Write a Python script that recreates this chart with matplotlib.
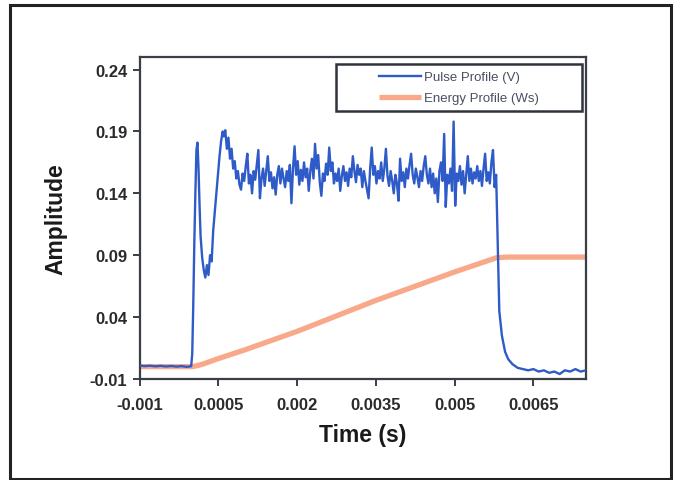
import numpy as np
import matplotlib
matplotlib.use("Agg")
import matplotlib.pyplot as plt
from matplotlib.patches import Rectangle

plt.rcParams['font.family'] = ['Liberation Sans', 'DejaVu Sans']

# ---------------- data ----------------
# Pulse profile: baseline + rising edge (explicit time/value pairs)
pulse_head_t = [-0.001, -0.0009, -0.0008, -0.0007, -0.0006, -0.0005, -0.0004, -0.0003,
                -0.0002, -0.0001, -0.00002, 0.0, 0.00002, 0.00004, 0.00006, 0.00008,
                0.0001, 0.00012, 0.00014, 0.00016, 0.00019, 0.00022, 0.00025, 0.00028,
                0.00031, 0.00034, 0.00037, 0.0004, 0.00043, 0.00046, 0.00049, 0.00052,
                0.00055, 0.00058, 0.0006]
pulse_head_v = [0.0008, 0.0004, 0.0007, 0.0002, 0.0006, 0.0001, 0.0005, 0.0,
                0.0004, -0.0002, 0.0003, 0.01, 0.05, 0.10, 0.14, 0.175,
                0.181, 0.16, 0.13, 0.105, 0.088, 0.078, 0.072, 0.082,
                0.074, 0.09, 0.085, 0.11, 0.125, 0.14, 0.155, 0.17,
                0.182, 0.19, 0.186]

# Pulse plateau, sampled every 30 us starting at 0.63 ms
plateau_start = 0.00063
plateau_dt = 0.00003
plateau_v = [
    0.191, 0.176, 0.185, 0.168, 0.176, 0.160, 0.166, 0.152, 0.158, 0.147,
    0.143, 0.156, 0.150, 0.162, 0.172, 0.148, 0.155, 0.140, 0.158, 0.151,
    0.163, 0.175, 0.136, 0.152, 0.160, 0.146, 0.158, 0.170, 0.150, 0.157,
    0.144, 0.153, 0.139, 0.155, 0.162, 0.148, 0.160, 0.152, 0.145, 0.158,
    0.150, 0.163, 0.132, 0.160, 0.178, 0.155, 0.166, 0.147, 0.159, 0.150,
    0.165, 0.153, 0.160, 0.142, 0.158, 0.168, 0.152, 0.180, 0.160, 0.171,
    0.149, 0.138, 0.156, 0.150, 0.164, 0.155, 0.177, 0.158, 0.165, 0.148,
    0.156, 0.150, 0.160, 0.142, 0.154, 0.162, 0.150, 0.157, 0.146, 0.160,
    0.153, 0.170, 0.158, 0.149, 0.163, 0.155, 0.160, 0.145, 0.158, 0.150,
    0.143, 0.136, 0.160, 0.177, 0.155, 0.162, 0.148, 0.158, 0.152, 0.165,
    0.150, 0.160, 0.176, 0.154, 0.146, 0.158, 0.150, 0.140, 0.155, 0.148,
    0.134, 0.168, 0.150, 0.157, 0.145, 0.160, 0.152, 0.163, 0.172, 0.155,
    0.148, 0.160, 0.153, 0.145, 0.158, 0.150, 0.162, 0.170, 0.155, 0.148,
    0.160, 0.145, 0.156, 0.140, 0.152, 0.133, 0.158, 0.165, 0.150, 0.188,
    0.129, 0.155, 0.148, 0.160, 0.142, 0.198, 0.130, 0.156, 0.150, 0.162,
    0.147, 0.158, 0.140, 0.155, 0.170, 0.150, 0.160, 0.148, 0.157, 0.152,
    0.162, 0.150, 0.158, 0.146, 0.160, 0.172, 0.150, 0.157, 0.148, 0.165,
    0.175, 0.145]

# Falling edge and trailing baseline
pulse_tail_t = [0.00579, 0.00582, 0.00585, 0.0059, 0.00596, 0.00602, 0.0061, 0.0062,
                0.0063, 0.0064, 0.0065, 0.0066, 0.0067, 0.0068, 0.0069, 0.0070,
                0.0071, 0.0072, 0.0073, 0.0074, 0.0075]
pulse_tail_v = [0.155, 0.10, 0.045, 0.025, 0.012, 0.006, 0.002, -0.001,
                -0.002, -0.003, -0.002, -0.004, -0.003, -0.005, -0.004, -0.006,
                -0.003, -0.004, -0.002, -0.004, -0.003]

# Energy profile
energy_t = [-0.001, 0.0, 0.0001, 0.0002, 0.0003, 0.0005, 0.001, 0.002, 0.0035,
            0.005, 0.0058, 0.006, 0.0075]
energy_v = [0.0, 0.0, 0.0008, 0.002, 0.0035, 0.0065, 0.0135, 0.0285, 0.0535,
            0.0765, 0.088, 0.0885, 0.0885]

xticks = [-0.001, 0.0005, 0.002, 0.0035, 0.005, 0.0065]
xtick_labels = ["-0.001", "0.0005", "0.002", "0.0035", "0.005", "0.0065"]
yticks = [-0.01, 0.04, 0.09, 0.14, 0.19, 0.24]
ytick_labels = ["-0.01", "0.04", "0.09", "0.14", "0.19", "0.24"]

# ---------------- plot ----------------
plateau_t = plateau_start + plateau_dt * np.arange(len(plateau_v))
pulse_t = np.concatenate([pulse_head_t, plateau_t, pulse_tail_t])
pulse_v = np.concatenate([pulse_head_v, plateau_v, pulse_tail_v])

fig = plt.figure(figsize=(6.75, 4.81), dpi=100)
fig.patch.set_facecolor('white')
ax = fig.add_axes([0.207, 0.21, 0.661, 0.669])

ax.plot(energy_t, energy_v, color='#f8a98a', lw=3.8, solid_capstyle='butt',
        label='Energy Profile (Ws)', zorder=2)
ax.plot(pulse_t, pulse_v, color='#2f5bc8', lw=1.7, label='Pulse Profile (V)', zorder=3)

ax.set_xlim(-0.001, 0.0075)
ax.set_ylim(-0.01, 0.25)
ax.set_xticks(xticks)
ax.set_xticklabels(xtick_labels)
ax.set_yticks(yticks)
ax.set_yticklabels(ytick_labels)

for s in ax.spines.values():
    s.set_color('#3a3e46')
    s.set_linewidth(1.6)
ax.tick_params(direction='out', length=5, width=1.4, color='#3a3e46',
               labelsize=12, top=False, right=False)
ax.tick_params(axis='x', pad=8)
ax.tick_params(axis='y', pad=4)
for lbl in ax.get_xticklabels() + ax.get_yticklabels():
    lbl.set_fontweight('bold')
    lbl.set_color('#2a2a2a')

ax.set_xlabel('Time (s)', fontsize=16.5, fontweight='bold', color='#1a1a1a', labelpad=8)
ax.set_ylabel('Amplitude', fontsize=16.5, fontweight='bold', color='#1a1a1a', labelpad=16)

# legend: centred content inside a drawn box
h, l = ax.get_legend_handles_labels()
leg = ax.legend([h[1], h[0]], [l[1], l[0]], loc='center',
                bbox_to_anchor=(0.715, 0.905), frameon=False, fontsize=9.5,
                handlelength=3.2, handletextpad=0.2, labelspacing=0.65)
for t in leg.get_texts():
    t.set_color('#4a4f60')
ax.add_patch(Rectangle((0.439, 0.832), 0.552, 0.146, transform=ax.transAxes,
                       fill=False, edgecolor='#2f333b', lw=1.8, zorder=5))

# outer frame of the picture
fig.add_artist(Rectangle((0.0148, 0.003), 0.98, 0.9835, transform=fig.transFigure,
                         fill=False, edgecolor='#222222', lw=2.2))

fig.savefig('out.png', dpi=100)
